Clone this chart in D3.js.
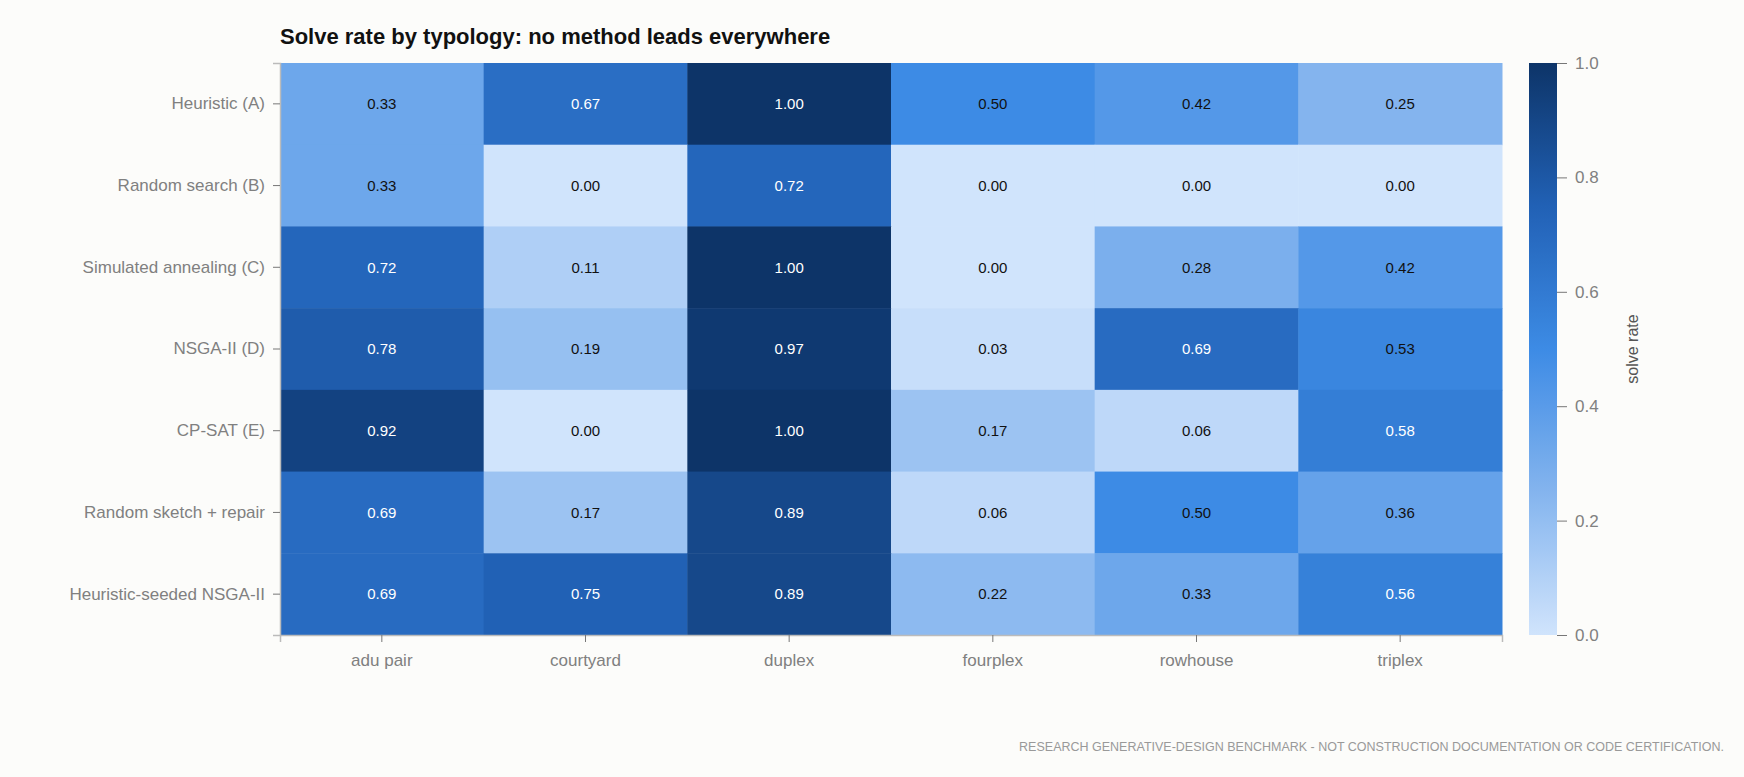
<!DOCTYPE html>
<html><head><meta charset="utf-8">
<script src="https://cdn.jsdelivr.net/npm/d3@7"></script>
<style>body{margin:0;background:#fcfcfa;font-family:"Liberation Sans",Arial,sans-serif}</style>
</head><body><svg id="c" width="1744" height="777"></svg>
<script>
const methods=["Heuristic (A)","Random search (B)","Simulated annealing (C)","NSGA-II (D)","CP-SAT (E)","Random sketch + repair","Heuristic-seeded NSGA-II"];
const typologies=["adu pair","courtyard","duplex","fourplex","rowhouse","triplex"];
const values=[
[0.33,0.67,1.00,0.50,0.42,0.25],
[0.33,0.00,0.72,0.00,0.00,0.00],
[0.72,0.11,1.00,0.00,0.28,0.42],
[0.78,0.19,0.97,0.03,0.69,0.53],
[0.92,0.00,1.00,0.17,0.06,0.58],
[0.69,0.17,0.89,0.06,0.50,0.36],
[0.69,0.75,0.89,0.22,0.33,0.56]];
const cbTicks=[0,0.2,0.4,0.6,0.8,1.0];

const svg=d3.select("#c");
const L=280,R=1502,T=63,B=635;
const x=d3.scaleBand().domain(typologies).range([L,R]);
const y=d3.scaleBand().domain(methods).range([T,B]);
const col=d3.scaleLinear().domain([0,0.25,0.5,0.75,1]).range(["#d0e4fc","#84b4ee","#3d8be5","#2161b5","#0d3468"]).interpolate(d3.interpolateRgb);
const cells=[];values.forEach((r,i)=>r.forEach((v,j)=>cells.push({m:methods[i],t:typologies[j],v})));
svg.selectAll("rect.c").data(cells).join("rect").attr("x",d=>x(d.t)).attr("y",d=>y(d.m)).attr("width",x.bandwidth()+0.5).attr("height",y.bandwidth()+0.5).attr("fill",d=>col(d.v));
svg.selectAll("text.v").data(cells).join("text").attr("x",d=>x(d.t)+x.bandwidth()/2).attr("y",d=>y(d.m)+y.bandwidth()/2).attr("dy","0.35em").attr("text-anchor","middle").attr("font-size",15).attr("fill",d=>d.v>0.55?"#fff":"#111").text(d=>d.v.toFixed(2));
svg.append("text").attr("x",L).attr("y",44).attr("font-size",22).attr("font-weight","bold").attr("fill","#111").text("Solve rate by typology: no method leads everywhere");
const ax=svg.append("g").attr("transform",`translate(0,${B})`).call(d3.axisBottom(x).tickSize(7).tickPadding(12));
const ay=svg.append("g").attr("transform",`translate(${L},0)`).call(d3.axisLeft(y).tickSize(7).tickPadding(8));
[ax,ay].forEach(a=>{a.select(".domain").attr("stroke","#bbb").attr("stroke-width",1.5);a.selectAll(".tick line").attr("stroke","#777");a.selectAll("text").attr("font-size",17).attr("fill","#808080").attr("font-family","Liberation Sans, Arial, sans-serif");});
// colorbar
const cx=1529,cw=28;
const cy=d3.scaleLinear().domain([0,1]).range([B,T]);
const g=svg.append("defs").append("linearGradient").attr("id","g").attr("x1",0).attr("x2",0).attr("y1",1).attr("y2",0);
d3.range(0,1.001,0.05).forEach(t=>g.append("stop").attr("offset",t).attr("stop-color",col(t)));
svg.append("rect").attr("x",cx).attr("y",T).attr("width",cw).attr("height",B-T).attr("fill","url(#g)");
const ac=svg.append("g").attr("transform",`translate(${cx+cw},0)`).call(d3.axisRight(cy).tickValues(cbTicks).tickFormat(d3.format(".1f")).tickSize(10).tickPadding(8));
ac.select(".domain").remove();ac.selectAll(".tick line").attr("stroke","#777");ac.selectAll("text").attr("font-size",17).attr("fill","#808080").attr("font-family","Liberation Sans, Arial, sans-serif");
svg.append("text").attr("transform",`translate(1638,${(T+B)/2}) rotate(-90)`).attr("text-anchor","middle").attr("font-size",16).attr("fill","#555").text("solve rate");
svg.append("text").attr("x",1724).attr("y",751).attr("text-anchor","end").attr("font-size",12.5).attr("fill","#999").text("RESEARCH GENERATIVE-DESIGN BENCHMARK - NOT CONSTRUCTION DOCUMENTATION OR CODE CERTIFICATION.");
</script></body></html>
